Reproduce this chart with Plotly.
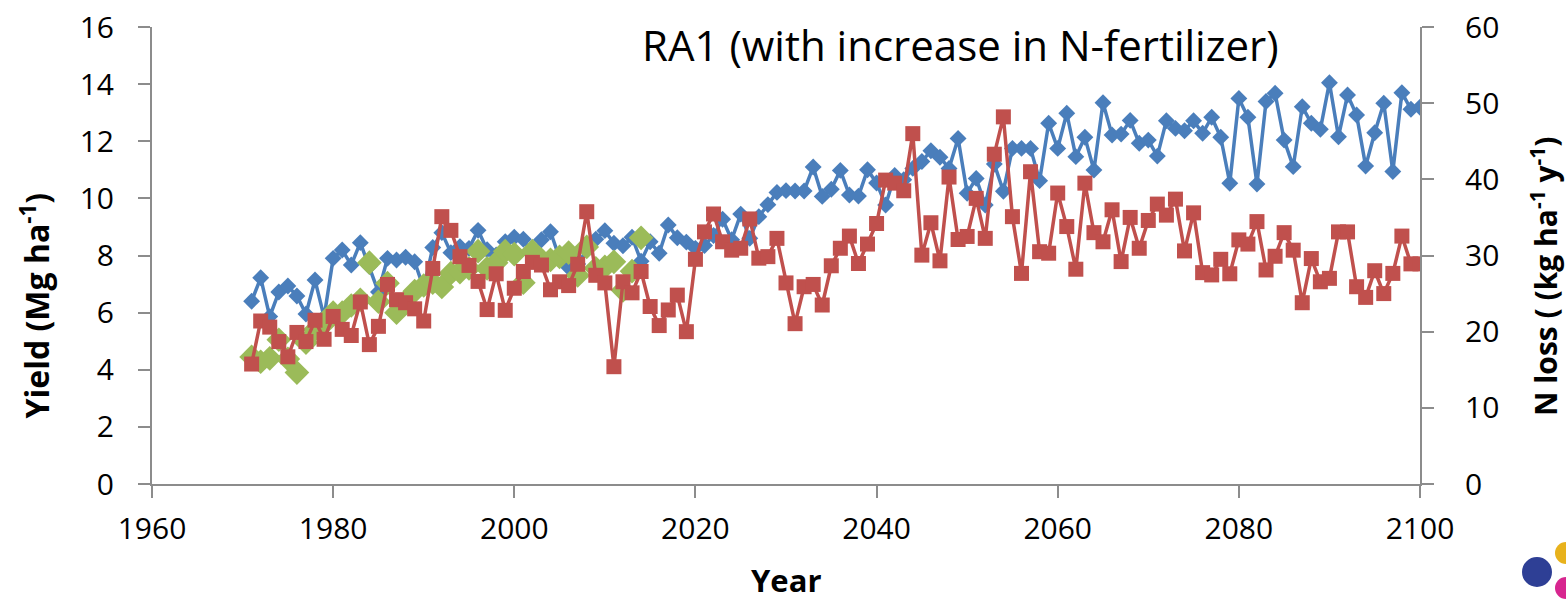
import plotly.graph_objects as go

# Simulated yield (left axis) and N loss (right axis), annual 1971-2100
years = list(range(1971, 2101))

yield_sim = [
    6.40, 7.22, 5.86, 6.72, 6.93, 6.58, 5.95, 7.14, 5.84, 7.90,   # 1971-1980
    8.19, 7.67, 8.45, 7.62, 6.72, 7.90, 7.84, 7.94, 7.78, 6.85,   # 1981-1990
    8.28, 8.80, 8.10, 8.31, 8.25, 8.88, 8.20, 8.02, 8.48, 8.64,   # 1991-2000
    8.57, 8.02, 8.55, 8.83, 7.90, 7.58, 7.70, 8.20, 8.57, 8.87,   # 2001-2010
    8.43, 8.34, 8.64, 7.80, 8.48, 8.08, 9.07, 8.62, 8.47, 8.25,   # 2011-2020
    8.35, 8.70, 9.27, 8.55, 9.45, 8.60, 9.36, 9.78, 10.21, 10.27, # 2021-2030
    10.26, 10.26, 11.10, 10.07, 10.32, 10.98, 10.12, 10.08, 11.00, 10.54,  # 2031-2040
    9.77, 10.80, 10.65, 11.05, 11.29, 11.67, 11.44, 11.05, 12.10, 10.18,   # 2041-2050
    10.70, 9.77, 11.20, 10.25, 11.75, 11.75, 11.75, 10.62, 12.63, 11.75,   # 2051-2060
    12.98, 11.46, 12.14, 10.99, 13.35, 12.22, 12.25, 12.73, 11.93, 12.04,  # 2061-2070
    11.48, 12.72, 12.45, 12.37, 12.72, 12.28, 12.84, 12.14, 10.53, 13.50,  # 2071-2080
    12.84, 10.50, 13.39, 13.68, 12.04, 11.11, 13.21, 12.63, 12.42, 14.05,  # 2081-2090
    12.16, 13.62, 12.92, 11.13, 12.30, 13.33, 10.94, 13.70, 13.12, 13.19,  # 2091-2100
]

n_loss = [
    15.75, 21.4, 20.6, 18.7, 16.7, 19.9, 18.7, 21.5, 19.0, 22.0,   # 1971-1980
    20.3, 19.5, 23.9, 18.3, 20.7, 26.2, 24.2, 23.8, 23.0, 21.4,    # 1981-1990
    28.3, 35.1, 33.3, 29.85, 28.7, 26.6, 22.9, 27.6, 22.8, 25.7,   # 1991-2000
    27.9, 29.1, 28.75, 25.5, 26.55, 26.05, 28.85, 35.75, 27.4, 26.4,  # 2001-2010
    15.4, 26.55, 25.1, 27.9, 23.3, 20.8, 22.85, 24.8, 20.0, 29.5,  # 2011-2020
    33.1, 35.45, 31.8, 30.7, 30.95, 34.8, 29.65, 29.85, 32.25, 26.4,  # 2021-2030
    21.05, 25.9, 26.2, 23.5, 28.65, 30.95, 32.55, 28.95, 31.5, 34.2,  # 2031-2040
    39.9, 39.5, 38.5, 46.0, 30.05, 34.3, 29.3, 40.3, 32.1, 32.5,   # 2041-2050
    37.5, 32.25, 43.3, 48.2, 35.1, 27.65, 41.0, 30.5, 30.3, 38.2,  # 2051-2060
    33.8, 28.2, 39.5, 33.0, 31.8, 36.0, 29.2, 35.0, 30.95, 34.6,   # 2061-2070
    36.75, 35.3, 37.4, 30.6, 35.6, 27.75, 27.45, 29.5, 27.6, 32.05,  # 2071-2080
    31.5, 34.45, 28.1, 29.9, 33.0, 30.7, 23.8, 29.6, 26.55, 27.0,  # 2081-2090
    33.1, 33.1, 25.9, 24.5, 28.0, 25.0, 27.65, 32.55, 28.9, 28.9,  # 2091-2100
]

# Observed yield, 1971-2014
obs_years = list(range(1971, 2015))
yield_obs = [
    4.45, 4.28, 4.40, 5.05, 4.38, 3.90, 4.95, 5.40, 5.60, 6.00,   # 1971-1980
    6.00, 6.25, 6.45, 7.75, 6.38, 7.03, 6.00, 6.32, 6.75, 6.95,   # 1981-1990
    7.05, 6.90, 7.38, 7.42, 7.55, 8.15, 7.55, 7.75, 8.15, 8.05,   # 1991-2000
    7.05, 8.15, 7.85, 7.85, 7.95, 8.10, 7.30, 8.30, 7.55, 7.60,   # 2001-2010
    7.78, 6.78, 7.45, 8.62,                                       # 2011-2014
]

x_ticks = [1960, 1980, 2000, 2020, 2040, 2060, 2080, 2100]
left_ticks = [0, 2, 4, 6, 8, 10, 12, 14, 16]
right_ticks = [0, 10, 20, 30, 40, 50, 60]

BLUE = "#4A7EBB"
RED = "#C0504D"
GREEN = "#9BBB59"
AXIS = "#8C8C8C"
FONT = "Open Sans, Liberation Sans, sans-serif"

# Plot-area geometry in pixels (used to place the corner badge)
FIG_W, FIG_H = 1566, 603
L, R, T, B = 152, 146, 27, 119
PW, PH = FIG_W - L - R, FIG_H - T - B

fig = go.Figure()

fig.add_trace(go.Scatter(
    x=years, y=yield_sim, mode="lines+markers", name="Simulated yield",
    line=dict(color=BLUE, width=3.5),
    marker=dict(symbol="diamond", size=13, color=BLUE),
    yaxis="y",
))
fig.add_trace(go.Scatter(
    x=obs_years, y=yield_obs, mode="markers", name="Observed yield",
    marker=dict(symbol="diamond", size=19, color=GREEN),
    yaxis="y",
))
fig.add_trace(go.Scatter(
    x=years, y=n_loss, mode="lines+markers", name="N loss",
    line=dict(color=RED, width=3.5),
    marker=dict(symbol="square", size=15, color=RED),
    yaxis="y2",
))

axis_common = dict(
    showgrid=False, zeroline=False, showline=True, automargin=False,
    linecolor=AXIS, linewidth=2,
    ticks="outside", ticklen=12, tickwidth=2, tickcolor=AXIS,
    tickfont=dict(family=FONT, size=30, color="#000000"),
)

fig.update_layout(
    width=FIG_W, height=FIG_H,
    margin=dict(l=L, r=R, t=T, b=B, autoexpand=False),
    paper_bgcolor="white", plot_bgcolor="white",
    showlegend=False,
    font=dict(family=FONT, color="#000000"),
    xaxis=dict(range=[1960, 2100], tickvals=x_ticks, ticklabelstandoff=5,
               **axis_common),
    yaxis=dict(range=[0, 16], tickvals=left_ticks, ticklabelstandoff=18,
               **axis_common),
    yaxis2=dict(range=[0, 60], tickvals=right_ticks, overlaying="y",
                side="right", ticklabelstandoff=25, **axis_common),
    annotations=[
        dict(text="RA1 (with increase in N-fertilizer)", x=0.638, y=0.962,
             xref="paper", yref="paper", showarrow=False,
             font=dict(family=FONT, size=42, color="#000000"),
             xanchor="center", yanchor="middle"),
        dict(text="<b>Year</b>", x=0.5, y=-0.211, xref="paper", yref="paper",
             showarrow=False, font=dict(family=FONT, size=31),
             xanchor="center", yanchor="middle"),
        dict(text="<b>Yield (Mg ha<sup>-1</sup>)</b>", x=-0.0925, y=0.39,
             xref="paper", yref="paper", showarrow=False, textangle=-90,
             font=dict(family=FONT, size=32),
             xanchor="center", yanchor="middle"),
        dict(text="<b>N loss ( (kg ha<sup>-1</sup> y<sup>-1</sup>)</b>",
             x=1.0985, y=0.455, xref="paper", yref="paper", showarrow=False,
             textangle=-90, font=dict(family=FONT, size=30),
             xanchor="center", yanchor="middle"),
    ],
)


def px_box(cx, cy, r):
    return dict(x0=(cx - r - L) / PW, x1=(cx + r - L) / PW,
                y0=(FIG_H - B - cy - r) / PH, y1=(FIG_H - B - cy + r) / PH)


# Small badge in the lower-right corner
fig.add_shape(type="circle", xref="paper", yref="paper", line=dict(width=0),
              fillcolor="#E8B21C", **px_box(1566, 553, 11))
fig.add_shape(type="circle", xref="paper", yref="paper", line=dict(width=0),
              fillcolor="#D7268F", **px_box(1566, 588, 11))
fig.add_shape(type="circle", xref="paper", yref="paper",
              line=dict(color="#2E3F95", width=2),
              fillcolor="#2E3F95", **px_box(1537, 572, 14))

fig.write_html("out.html")
